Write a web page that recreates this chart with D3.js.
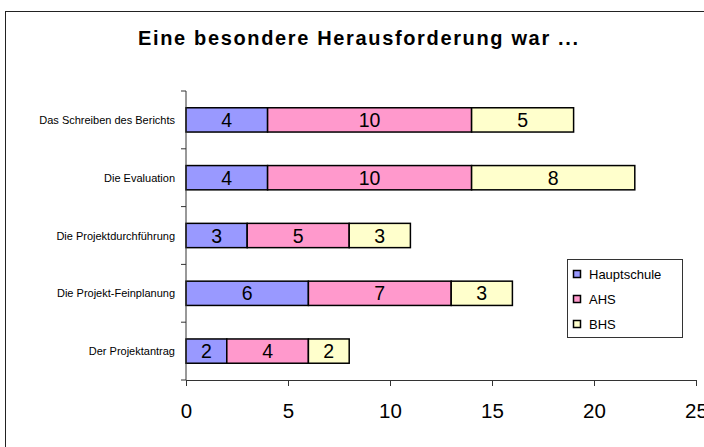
<!DOCTYPE html>
<html><head><meta charset="utf-8">
<script src="https://cdn.jsdelivr.net/npm/d3@7"></script>
<style>body{margin:0;background:#fff}svg{display:block;font-family:"Liberation Sans",Arial,sans-serif}</style>
</head><body><svg id="c" width="704" height="447"></svg>
<script>
const categories = ["Das Schreiben des Berichts","Die Evaluation","Die Projektdurchführung","Die Projekt-Feinplanung","Der Projektantrag"];
const seriesNames = ["Hauptschule","AHS","BHS"];
const hauptschule = [4,4,3,6,2];
const ahs = [10,10,5,7,4];
const bhs = [5,8,3,3,2];
const xTicks = [0,5,10,15,20,25];
const colors = ["#9999FF","#FF99CC","#FFFFCC"];
const title = "Eine besondere Herausforderung war ...";

const svg = d3.select("#c");
svg.append("rect").attr("x",5.5).attr("y",11.5).attr("width",740).attr("height",480)
  .attr("fill","#fff").attr("stroke","#222").attr("stroke-width",1);
svg.append("text").attr("x",358).attr("y",45).attr("text-anchor","middle")
  .attr("font-size",20).attr("font-weight","bold")
  .attr("textLength",440).attr("lengthAdjust","spacing").text(title);

const L=186, R=696, T=91, B=380;
const x = d3.scaleLinear().domain([0,25]).range([L,R]);
const y = d3.scaleBand().domain(categories).range([T,B]).paddingInner(0.58).paddingOuter(0.29);

const rows = categories.map((c,i)=>({cat:c, vals:[hauptschule[i],ahs[i],bhs[i]]}));
const stack = d3.stack().keys([0,1,2]).value((d,k)=>d.vals[k]);
const layers = stack(rows);

layers.forEach((layer,k)=>{
  const g = svg.append("g");
  g.selectAll("rect").data(layer).join("rect")
    .attr("x",d=>x(d[0])).attr("y",d=>y(d.data.cat))
    .attr("width",d=>x(d[1])-x(d[0])).attr("height",y.bandwidth())
    .attr("fill",colors[k]).attr("stroke","#000").attr("stroke-width",1.5);
  g.selectAll("text").data(layer).join("text")
    .attr("x",d=>(x(d[0])+x(d[1]))/2).attr("y",d=>y(d.data.cat)+y.bandwidth()/2+7)
    .attr("text-anchor","middle").attr("font-size",19.5).text(d=>d[1]-d[0]);
});

// x axis
const xa = svg.append("g").attr("transform",`translate(0,${B})`)
  .call(d3.axisBottom(x).tickValues(xTicks).tickSize(6).tickSizeOuter(6));
xa.select(".domain").attr("stroke","#333");
xa.selectAll(".tick line").attr("stroke","#333");
xa.selectAll("text").attr("font-size",20.5).attr("dy",0).attr("y",38).attr("fill","#000")
  .attr("font-family","'Liberation Sans',Arial,sans-serif");

// y axis
svg.append("line").attr("x1",L).attr("x2",L).attr("y1",T).attr("y2",B).attr("stroke","#333");
d3.range(categories.length+1).forEach(i=>{
  const yy = T + i*y.step();
  svg.append("line").attr("x1",L-5).attr("x2",L).attr("y1",yy).attr("y2",yy).attr("stroke","#333");
});
svg.append("g").selectAll("text").data(categories).join("text")
  .attr("x",175).attr("y",d=>y(d)+y.bandwidth()/2+4).attr("text-anchor","end")
  .attr("font-size",11).text(d=>d);

// legend
const lg = svg.append("g");
lg.append("rect").attr("x",567.5).attr("y",259.5).attr("width",115).attr("height",78)
  .attr("fill","#fff").attr("stroke","#333");
seriesNames.forEach((n,i)=>{
  const cy = 274 + i*25;
  lg.append("rect").attr("x",573.5).attr("y",cy-3.5).attr("width",7).attr("height",7)
    .attr("fill",colors[i]).attr("stroke","#000").attr("stroke-width",1.5);
  lg.append("text").attr("x",589).attr("y",cy+5).attr("font-size",13).text(n);
});
</script></body></html>
